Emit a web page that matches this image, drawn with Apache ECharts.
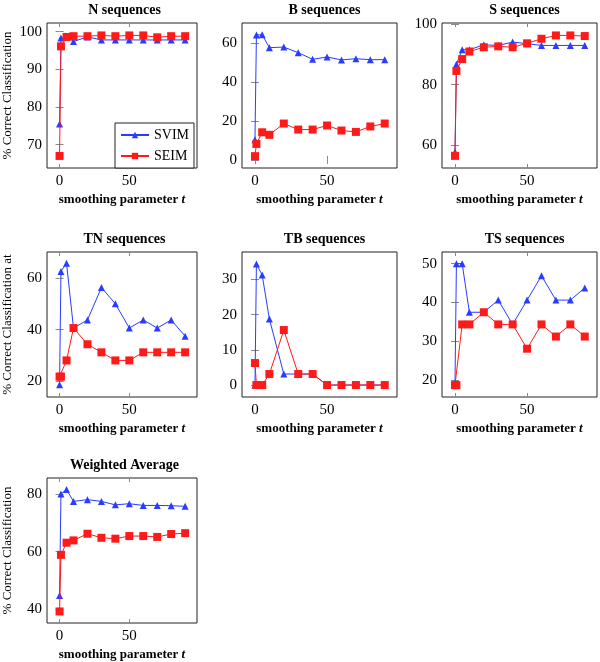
<!DOCTYPE html>
<html>
<head>
<meta charset="utf-8">
<script src="https://cdn.jsdelivr.net/npm/echarts@6/dist/echarts.min.js"></script>
<style>
  html, body { margin: 0; padding: 0; background: #fff; }
  #chart { width: 600px; height: 662px; }
</style>
</head>
<body>
<div id="chart"></div>
<script>
// smoothing parameter t
const tValues = [0, 1, 5, 10, 20, 30, 40, 50, 60, 70, 80, 90];
const xTicks = [0, 50];

// % correct classification per panel
const nSvim = [75.5, 98.3, 98.6, 97.4, 98.6, 97.8, 97.8, 97.8, 97.8, 97.8, 97.8, 97.8];
const nSeim = [67.0, 96.1, 98.6, 98.8, 98.8, 99.0, 98.8, 99.0, 99.0, 98.5, 98.8, 98.8];
const bSvim = [10.3, 64.3, 64.5, 57.8, 58.1, 55.2, 51.8, 53.0, 51.5, 52.1, 51.6, 51.6];
const bSeim = [1.9, 8.2, 14.2, 12.9, 18.7, 15.6, 15.6, 17.7, 15.1, 14.4, 17.2, 18.7];
const sSvim = [57.8, 86.7, 91.5, 91.5, 93.1, 92.9, 94.0, 93.5, 92.9, 92.9, 92.9, 92.9];
const sSeim = [56.5, 84.5, 88.4, 90.9, 92.3, 92.6, 92.3, 93.6, 95.1, 96.2, 96.2, 96.0];
const tnSvim = [18.75, 62.5, 65.625, 40.625, 43.75, 56.25, 50, 40.625, 43.75, 40.625, 43.75, 37.5];
const tnSeim = [21.875, 21.875, 28.125, 40.625, 34.375, 31.25, 28.125, 28.125, 31.25, 31.25, 31.25, 31.25];
const tbSvim = [0, 34.375, 31.25, 18.75, 3.125, 3.125, 3.125, 0, 0, 0, 0, 0];
const tbSeim = [6.25, 0, 0, 3.125, 15.625, 3.125, 3.125, 0, 0, 0, 0, 0];
const tsSvim = [18.75, 50, 50, 37.5, 37.5, 40.625, 34.375, 40.625, 46.875, 40.625, 40.625, 43.75];
const tsSeim = [18.75, 18.75, 34.375, 34.375, 37.5, 34.375, 34.375, 28.125, 34.375, 31.25, 34.375, 31.25];
const waSvim = [44.8, 80.0, 81.5, 77.4, 78.0, 77.4, 76.2, 76.6, 76.0, 76.0, 75.9, 75.7];
const waSeim = [39.3, 58.9, 63.1, 63.9, 66.2, 64.8, 64.5, 65.4, 65.4, 65.1, 66.1, 66.4];

// y tick labels per panel
const nTicks = [70, 80, 90, 100];
const bTicks = [0, 20, 40, 60];
const sTicks = [60, 80, 100];
const tnTicks = [20, 40, 60];
const tbTicks = [0, 10, 20, 30];
const tsTicks = [20, 30, 40, 50];
const waTicks = [40, 60, 80];

const FONT = '"Liberation Serif", "DejaVu Serif", "Times New Roman", serif';
const BLUE = '#2a3cff';
const RED = '#ff1a1a';

const panels = [
  { title: 'N sequences', svim: nSvim, seim: nSeim, ticks: nTicks, min: 63.8, max: 102.3, col: 0, row: 0, yName: '% Correct Classification' },
  { title: 'B sequences', svim: bSvim, seim: bSeim, ticks: bTicks, min: -4.2, max: 70.5, col: 1, row: 0 },
  { title: 'S sequences', svim: sSvim, seim: sSeim, ticks: sTicks, min: 52.5, max: 100.3, col: 2, row: 0 },
  { title: 'TN sequences', svim: tnSvim, seim: tnSeim, ticks: tnTicks, min: 14.0, max: 70.0, col: 0, row: 1, yName: '% Correct Classification at' },
  { title: 'TB sequences', svim: tbSvim, seim: tbSeim, ticks: tbTicks, min: -3.4, max: 37.8, col: 1, row: 1 },
  { title: 'TS sequences', svim: tsSvim, seim: tsSeim, ticks: tsTicks, min: 15.7, max: 53.0, col: 2, row: 1 },
  { title: 'Weighted Average', svim: waSvim, seim: waSeim, ticks: waTicks, min: 35.3, max: 85.5, col: 0, row: 2, yName: '% Correct Classification' }
]

const colLeft = [42, 242, 442]
const rowTop = [23, 252, 478]
const boxW = 155
const boxH = 145

const grid = []
const xAxis = []
const yAxis = []
const series = []
const title = []

const tickStyle = { inside: true, length: 4, lineStyle: { color: '#888', width: 1 } }
const labelStyle = { color: '#000', fontFamily: FONT, fontSize: 15 }

panels.forEach((p, i) => {
  const left = colLeft[p.col]
  const top = rowTop[p.row]
  grid.push({
    left: left, top: top, width: boxW, height: boxH,
    show: true, borderColor: '#222', borderWidth: 1, backgroundColor: '#fff'
  })
  title.push({
    text: p.title,
    left: left + boxW / 2,
    top: top - 25,
    textAlign: 'center',
    textStyle: { fontFamily: FONT, fontSize: 14, fontWeight: 'bold', color: '#000' }
  })
  // bottom x axis with labels
  xAxis.push({
    type: 'value', gridIndex: i, min: -9, max: 98.5, position: 'bottom',
    axisLine: { show: false },
    splitLine: { show: false },
    axisTick: Object.assign({ customValues: xTicks }, tickStyle),
    axisLabel: Object.assign({ customValues: xTicks, margin: 6 }, labelStyle),
    name: 'smoothing parameter {it|t}',
    nameLocation: 'middle',
    nameGap: 25,
    nameTextStyle: {
      fontFamily: FONT, fontSize: 13, fontWeight: 'bold', color: '#000',
      rich: { it: { fontFamily: FONT, fontSize: 13, fontWeight: 'bold', fontStyle: 'italic', color: '#000' } }
    }
  })
  // mirrored top ticks
  xAxis.push({
    type: 'value', gridIndex: i, min: -9, max: 98.5, position: 'top',
    axisLine: { show: false },
    splitLine: { show: false },
    axisTick: Object.assign({ customValues: xTicks }, tickStyle),
    axisLabel: { show: false }
  })
  yAxis.push({
    type: 'value', gridIndex: i, min: p.min, max: p.max, position: 'left',
    axisLine: { show: false },
    splitLine: { show: false },
    axisTick: Object.assign({ customValues: p.ticks }, tickStyle),
    axisLabel: Object.assign({ customValues: p.ticks, margin: 5 }, labelStyle),
    name: p.yName || '',
    nameLocation: 'middle',
    nameGap: 33,
    nameRotate: 90,
    nameTextStyle: { fontFamily: FONT, fontSize: 13, color: '#000' }
  })
  yAxis.push({
    type: 'value', gridIndex: i, min: p.min, max: p.max, position: 'right',
    axisLine: { show: false },
    splitLine: { show: false },
    axisTick: Object.assign({ customValues: p.ticks }, tickStyle),
    axisLabel: { show: false }
  })
  series.push({
    name: 'SVIM', type: 'line',
    xAxisIndex: 2 * i, yAxisIndex: 2 * i,
    data: tValues.map((t, k) => [t, p.svim[k]]),
    symbol: 'triangle', symbolSize: 7,
    lineStyle: { color: BLUE, width: 1 },
    itemStyle: { color: BLUE },
    z: 2
  })
  series.push({
    name: 'SEIM', type: 'line',
    xAxisIndex: 2 * i, yAxisIndex: 2 * i,
    data: tValues.map((t, k) => [t, p.seim[k]]),
    symbol: 'rect', symbolSize: 8,
    lineStyle: { color: RED, width: 1 },
    itemStyle: { color: RED },
    z: 3
  })
})

const chart = echarts.init(document.getElementById('chart'))
chart.setOption({
  animation: false,
  backgroundColor: '#fff',
  title: title,
  grid: grid,
  xAxis: xAxis,
  yAxis: yAxis,
  legend: {
    data: ['SVIM', 'SEIM'],
    orient: 'vertical',
    left: 115,
    top: 123,
    itemWidth: 28,
    itemHeight: 8,
    itemGap: 7,
    padding: [5, 5, 5, 5],
    backgroundColor: '#fff',
    borderColor: '#222',
    borderWidth: 1,
    textStyle: { fontFamily: FONT, fontSize: 14, color: '#000' },
    z: 10
  },
  series: series
})
</script>
</body>
</html>
